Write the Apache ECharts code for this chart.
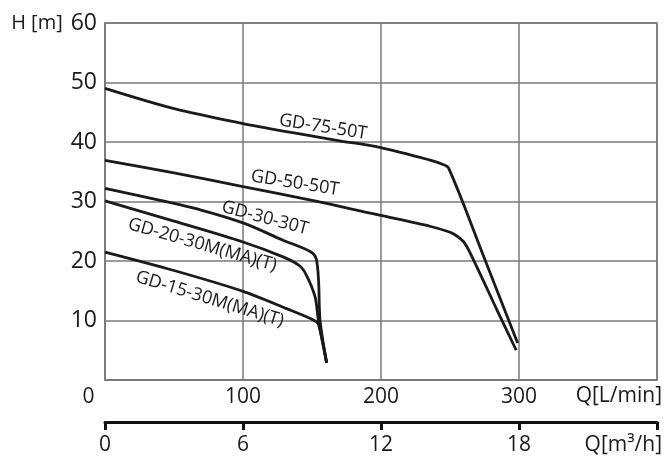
<!DOCTYPE html>
<html><head><meta charset="utf-8">
<script src="https://cdn.jsdelivr.net/npm/echarts@6/dist/echarts.min.js"></script>
<style>html,body{margin:0;padding:0;background:#fff}#c{width:670px;height:457px}</style>
</head><body><div id="c"></div>
<script>
// ---- data ----
const seriesNames = ['GD-75-50T', 'GD-50-50T', 'GD-30-30T', 'GD-20-30M(MA)(T)', 'GD-15-30M(MA)(T)'];
const q75 = [0, 50, 100, 135, 170, 199, 235, 244, 249, 274, 299];
const h75 = [49.0, 45.6, 43.1, 41.6, 40.2, 39.1, 37.0, 36.3, 35.6, 21.0, 6.2];
const q50 = [0, 50, 100, 150, 199, 236, 248, 253, 260, 267, 284, 298];
const h50 = [36.9, 34.8, 32.5, 30.2, 27.7, 25.8, 25.0, 24.5, 23.2, 20.2, 11.8, 5.0];
const q30 = [0, 40, 69, 100, 129, 148.6, 153, 154.8, 155.8, 160.6];
const h30 = [32.2, 30.2, 28.6, 26.4, 23.5, 21.6, 20.4, 16.5, 10.1, 2.9];
const q20 = [0, 50, 100, 129, 141, 146, 152.2, 154.6, 160.6];
const h20 = [30.1, 26.7, 23.2, 20.7, 19.2, 17.6, 14.0, 10.1, 2.9];
const q15 = [0, 50, 100, 131.6, 151, 154.6, 160.6];
const h15 = [21.5, 18.4, 14.9, 12.0, 10.1, 9.4, 2.9];
const labelQ = [158, 137.7, 116, 70.5, 76];
const labelH = [42.5, 33.1, 27.2, 22.7, 13.6];
const xTicksLmin = [0, 100, 200, 300];
const xTicksM3h = [0, 6, 12, 18];
const yTicks = [10, 20, 30, 40, 50, 60];
const xNameLmin = 'Q[L/min]';
const xNameM3h = 'Q[m³/h]';
const yName = 'H [m]';

// ---- build ----
const Qs = [q75, q50, q30, q20, q15];
const Hs = [h75, h50, h30, h20, h15];
const zip = (a, b) => a.map((v, i) => [v, b[i]]);
const rot = [-9, -9, -15, -16, -17];
const FONT = 'Open Sans';
const INK = '#1a1a1a';
const GRID = '#7a7a7a';

const chart = echarts.init(document.getElementById('c'));
chart.setOption({
  animation: false,
  backgroundColor: '#fff',
  textStyle: { fontFamily: FONT },
  grid: { left: 105, top: 23, width: 552, height: 357, show: true, borderColor: GRID, borderWidth: 1.5 },
  xAxis: [{
    type: 'value', min: 0, max: 400, interval: 100,
    axisLine: { show: true, lineStyle: { color: GRID, width: 1.5 } },
    axisTick: { show: false },
    splitLine: { show: true, lineStyle: { color: GRID, width: 1.5 } },
    axisLabel: {
      margin: 7, fontSize: 21, color: INK, fontFamily: FONT,
      formatter: v => xTicksLmin.includes(v) ? (v === 0 ? '{z|0}' : String(v)) : '',
      rich: { z: { fontSize: 21, color: INK, fontFamily: FONT, padding: [0, 33, 0, 0] } }
    },
    name: xNameLmin, nameLocation: 'end', nameGap: 5,
    nameTextStyle: { fontSize: 21, color: INK, fontFamily: FONT, align: 'right', verticalAlign: 'top', padding: [6, 0, 0, 0] }
  }, {
    type: 'value', min: 0, max: 24, interval: 6, position: 'bottom', offset: 42,
    axisLine: { show: true, lineStyle: { color: '#111', width: 3 } },
    axisTick: { show: true, length: 8, lineStyle: { color: '#111', width: 3 } },
    splitLine: { show: false },
    axisLabel: {
      margin: 13, fontSize: 21, color: INK, fontFamily: FONT,
      formatter: v => xTicksM3h.includes(v) ? String(v) : ''
    },
    name: xNameM3h, nameLocation: 'end', nameGap: 5,
    nameTextStyle: { fontSize: 21, color: INK, fontFamily: FONT, align: 'right', verticalAlign: 'top', padding: [13, 0, 0, 0] }
  }],
  yAxis: {
    type: 'value', min: 0, max: 60, interval: 10,
    axisLine: { show: true, lineStyle: { color: GRID, width: 1.5 } },
    axisTick: { show: false },
    splitLine: { show: true, lineStyle: { color: GRID, width: 1.5 } },
    axisLabel: {
      margin: 8, fontSize: 23, color: INK, fontFamily: FONT,
      formatter: v => !yTicks.includes(v) ? '' : (v === 60 ? '{n|' + yName + '}{v|' + v + '}' : String(v)),
      rich: {
        n: { fontSize: 20, color: INK, fontFamily: FONT, padding: [0, 8, 0, 0] },
        v: { fontSize: 23, color: INK, fontFamily: FONT }
      }
    }
  },
  series: seriesNames.map((n, i) => ({
    name: n, type: 'line', xAxisIndex: 0,
    data: zip(Qs[i], Hs[i]),
    showSymbol: false, symbol: 'none',
    smooth: 0.3,
    lineStyle: { color: INK, width: 2.8 },
    markPoint: {
      symbol: 'circle', symbolSize: 1,
      itemStyle: { color: 'rgba(0,0,0,0)' },
      label: { show: true, position: 'inside', formatter: n, rotate: rot[i], color: INK, fontSize: 18, fontFamily: FONT },
      data: [{ coord: [labelQ[i], labelH[i]] }]
    }
  }))
});
</script>
</body></html>
